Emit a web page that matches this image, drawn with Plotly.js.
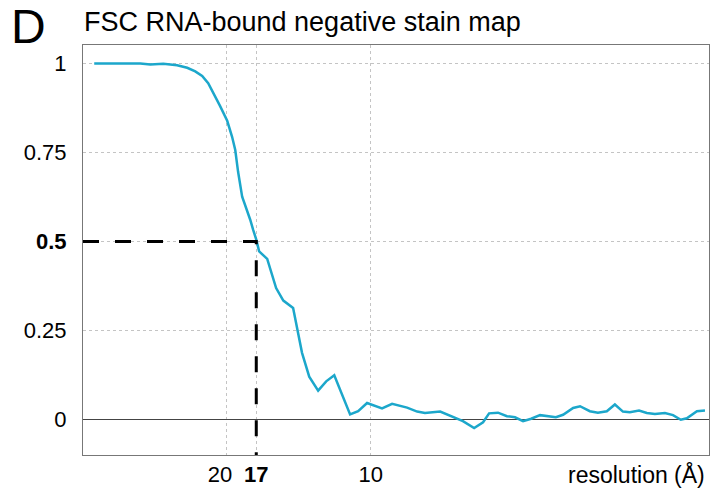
<!DOCTYPE html>
<html>
<head>
<meta charset="utf-8">
<script src="https://cdn.plot.ly/plotly-3.0.1.min.js"></script>
<style>html,body{margin:0;padding:0;background:#fff;}#chart{width:726px;height:495px;}</style>
</head>
<body>
<div id="chart"></div>
<script>
// spatial frequency (1/Å)
const freq = [0.0039,0.0095,0.0147,0.0199,0.0234,0.0279,0.0327,0.0362,0.0390,0.0414,0.0435,0.0452,0.0476,0.0501,0.0518,0.0529,0.0539,0.0553,0.0570,0.0581,0.0591,0.0602,0.0612,0.0640,0.0671,0.0696,0.0730,0.0761,0.0786,0.0817,0.0845,0.0873,0.0928,0.0956,0.0987,0.1039,0.1074,0.1126,0.1161,0.1188,0.1241,0.1275,0.1320,0.1359,0.1390,0.1411,0.1442,0.1473,0.1501,0.1529,0.1557,0.1588,0.1612,0.1643,0.1668,0.1703,0.1727,0.1761,0.1789,0.1820,0.1848,0.1876,0.1900,0.1932,0.1959,0.1987,0.2022,0.2050,0.2077,0.2098,0.2133,0.2161];
const fsc = [1.000,1.000,1.000,1.000,0.997,0.999,0.995,0.988,0.978,0.965,0.945,0.920,0.881,0.839,0.794,0.757,0.695,0.626,0.589,0.561,0.533,0.505,0.472,0.451,0.369,0.334,0.313,0.187,0.120,0.081,0.107,0.124,0.014,0.023,0.046,0.031,0.044,0.033,0.022,0.018,0.022,0.011,-0.005,-0.024,-0.008,0.017,0.019,0.009,0.006,-0.005,0.002,0.012,0.010,0.006,0.013,0.032,0.037,0.023,0.019,0.023,0.042,0.022,0.020,0.025,0.018,0.015,0.018,0.012,-0.001,0.003,0.023,0.025];

// threshold and resolution at crossing
const threshold = 0.5;
const crossFreq = 0.0602;

// axis ticks
const xTickVals = [0.0602, 0.1];
const xTickText = ['<b>17</b>', '10'];
const xTickVals2 = [0.05];
const xTickText2 = ['20'];
const yTickVals = [0, 0.25, 0.5, 0.75, 1];
const yTickText = ['0', '0.25', '<b>0.5</b>', '0.75', '1'];

const xRange = [0, 0.2175];
const yRange = [-0.1, 1.052];

const FONT = 'Liberation Sans, Arial, Helvetica, sans-serif';

const traces = [
  {x: freq, y: fsc, type: 'scatter', mode: 'lines',
   line: {color: '#1ca7cb', width: 2.5}, hoverinfo: 'skip', showlegend: false},
  {x: [xRange[0], crossFreq, crossFreq], y: [threshold, threshold, yRange[0]],
   type: 'scatter', mode: 'lines', line: {color: '#000', width: 3, dash: '16px,16px'},
   hoverinfo: 'skip', showlegend: false},
  {x: [xTickVals2[0]], y: [threshold], xaxis: 'x2', type: 'scatter', mode: 'markers',
   marker: {opacity: 0}, hoverinfo: 'skip', showlegend: false}
];

const layout = {
  width: 726, height: 495,
  margin: {l: 83, r: 17, t: 45, b: 40},
  paper_bgcolor: '#fff', plot_bgcolor: '#fff',
  font: {family: FONT, size: 22, color: '#000'},
  title: {text: 'FSC RNA-bound negative stain map', xref: 'container', yref: 'container',
          x: 84/726, y: 1 - 22/495, xanchor: 'left', yanchor: 'middle',
          font: {family: FONT, size: 27, color: '#000'}},
  xaxis: {range: xRange, tickmode: 'array', tickvals: xTickVals, ticktext: xTickText,
          showgrid: true, gridcolor: '#c4c4c4', griddash: 'dot', gridwidth: 1,
          zeroline: false, showline: true, linecolor: '#777', linewidth: 1, mirror: true,
          ticks: '', ticklabelstandoff: 0, tickfont: {size: 22}},
  xaxis2: {overlaying: 'x', matches: 'x', range: xRange, tickmode: 'array',
           tickvals: xTickVals2, ticktext: xTickText2, ticklabelshift: -7,
           showgrid: true, gridcolor: '#c4c4c4', griddash: 'dot', gridwidth: 1,
           zeroline: false, showline: false, ticks: '', ticklabelstandoff: 4,
           side: 'bottom', tickfont: {size: 22}},
  yaxis: {range: yRange, tickmode: 'array', tickvals: yTickVals, ticktext: yTickText,
          showgrid: true, gridcolor: '#c4c4c4', griddash: 'dot', gridwidth: 1,
          zeroline: true, zerolinecolor: '#444', zerolinewidth: 1,
          showline: true, linecolor: '#777', linewidth: 1, mirror: true,
          ticks: '', ticklabelstandoff: 11, tickfont: {size: 22}},
  annotations: [
    {text: 'D', xref: 'paper', yref: 'paper', x: (28-83)/626, y: 1 + (45-27)/410,
     xanchor: 'center', yanchor: 'middle', showarrow: false,
     font: {family: FONT, size: 48, color: '#000'}},
    {text: 'resolution (Å)', xref: 'paper', yref: 'paper', x: (707-83)/626, y: -(474-455)/410,
     xanchor: 'right', yanchor: 'middle', showarrow: false,
     font: {family: FONT, size: 23, color: '#000'}}
  ],
  showlegend: false
};

Plotly.newPlot('chart', traces, layout, {displayModeBar: false, staticPlot: true});
</script>
</body>
</html>
